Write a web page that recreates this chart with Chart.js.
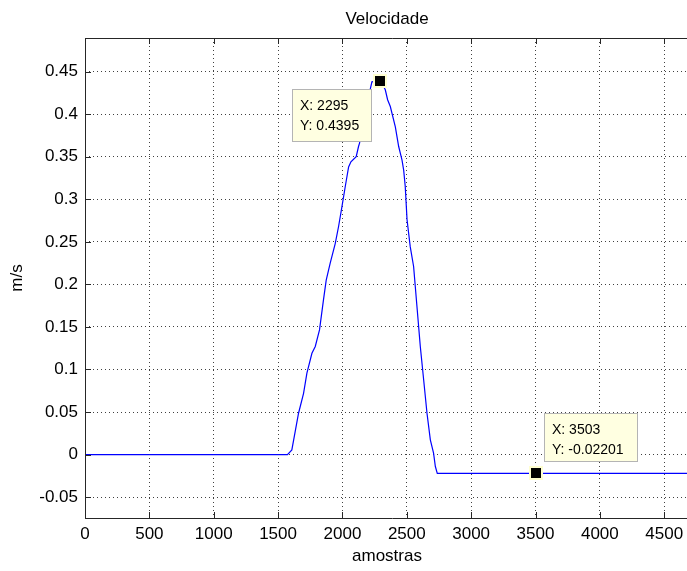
<!DOCTYPE html>
<html>
<head>
<meta charset="utf-8">
<script src="https://cdn.jsdelivr.net/npm/chart.js@4.4.1/dist/chart.umd.min.js"></script>
<style>
  html, body { margin: 0; padding: 0; background: #fff; overflow: hidden; }
  #wrap { width: 687px; height: 571px; overflow: hidden; }
</style>
</head>
<body>
<div id="wrap"><canvas id="vel" width="700" height="571"></canvas></div>
<script>
// amostras / velocidade (m/s)
const amostras = [0, 1573, 1607, 1659, 1698, 1724, 1763, 1789, 1822, 1853, 1874, 1905, 1944, 1970,
  1996, 2022, 2048, 2066, 2107, 2125, 2133, 2180, 2229, 2295, 2333, 2351, 2372, 2411, 2437, 2463,
  2476, 2488, 2502, 2527, 2553, 2579, 2605, 2631, 2657, 2683, 2708, 2722, 2737, 4780];
const velocidade = [0, 0, 0.0055, 0.0486, 0.072, 0.0957, 0.119, 0.127, 0.1465, 0.182, 0.205, 0.225,
  0.248, 0.268, 0.291, 0.315, 0.338, 0.344, 0.350, 0.362, 0.366, 0.405, 0.438, 0.4395, 0.4286, 0.417,
  0.409, 0.385, 0.362, 0.346, 0.334, 0.315, 0.276, 0.244, 0.221, 0.174, 0.127, 0.088, 0.0486, 0.0173,
  0.0016, -0.014, -0.02201, -0.02201];

const xTicks = [0, 500, 1000, 1500, 2000, 2500, 3000, 3500, 4000, 4500];
const yTicks = [-0.05, 0, 0.05, 0.1, 0.15, 0.2, 0.25, 0.3, 0.35, 0.4, 0.45];

// data tips: ponto e deslocamento da caixa
const dataTips = [
  { x: 2295, y: 0.4395, label: ['X: 2295', 'Y: 0.4395'], dx: -88, dy: 8, w: 80, h: 53 },
  { x: 3503, y: -0.02201, label: ['X: 3503', 'Y: -0.02201'], dx: 8, dy: -60, w: 94, h: 49 }
];

const FONT = 'Arial, "Liberation Sans", sans-serif';

// Moldura, ticks para dentro, títulos e data tips estilo MATLAB.
const matlabPlugin = {
  id: 'matlab',
  afterDraw(chart) {
    const { ctx, chartArea: a } = chart;
    const xs = chart.scales.x, ys = chart.scales.y;
    ctx.save();
    ctx.strokeStyle = '#262626';
    ctx.lineWidth = 1;
    ctx.beginPath();
    ctx.moveTo(a.left + 0.5, a.bottom + 0.5);
    ctx.lineTo(a.left + 0.5, a.top + 0.5);
    ctx.lineTo(a.right, a.top + 0.5);
    ctx.moveTo(a.left, a.bottom + 0.5);
    ctx.lineTo(a.right, a.bottom + 0.5);
    xTicks.forEach(v => {
      const px = Math.round(xs.getPixelForValue(v)) + 0.5;
      ctx.moveTo(px, a.bottom); ctx.lineTo(px, a.bottom - 6);
      ctx.moveTo(px, a.top); ctx.lineTo(px, a.top + 6);
    });
    yTicks.forEach(v => {
      const py = Math.round(ys.getPixelForValue(v)) + 0.5;
      ctx.moveTo(a.left, py); ctx.lineTo(a.left + 6, py);
    });
    ctx.stroke();

    const cx = (a.left + 689) / 2;
    ctx.fillStyle = '#000';
    ctx.font = '17px ' + FONT;
    ctx.textAlign = 'center';
    ctx.textBaseline = 'middle';
    ctx.fillText('Velocidade', cx, 19);
    ctx.fillText('amostras', cx, 556);
    ctx.save();
    ctx.translate(17, (a.top + a.bottom) / 2);
    ctx.rotate(-Math.PI / 2);
    ctx.fillText('m/s', 0, 0);
    ctx.restore();

    dataTips.forEach(t => {
      const px = Math.round(xs.getPixelForValue(t.x));
      const py = Math.round(ys.getPixelForValue(t.y));
      const bx = px + t.dx, by = py + t.dy;
      ctx.fillStyle = '#ffffe1';
      ctx.fillRect(bx, by, t.w, t.h);
      ctx.strokeStyle = '#b4b4b4';
      ctx.strokeRect(bx + 0.5, by + 0.5, t.w - 1, t.h - 1);
      ctx.fillStyle = '#000';
      ctx.font = '14px ' + FONT;
      ctx.textAlign = 'left';
      ctx.fillText(t.label[0], bx + 8, by + 17);
      ctx.fillText(t.label[1], bx + 8, by + 37);
      ctx.fillStyle = '#ffffd0';
      ctx.fillRect(px - 7, py - 7, 14, 14);
      ctx.fillStyle = '#000';
      ctx.fillRect(px - 5, py - 5, 10, 10);
    });
    ctx.restore();
  }
};

new Chart(document.getElementById('vel').getContext('2d'), {
  type: 'scatter',
  data: {
    datasets: [{
      data: amostras.map((x, i) => ({ x, y: velocidade[i] })),
      showLine: true,
      borderColor: '#0000ff',
      borderWidth: 1.2,
      pointRadius: 0,
      tension: 0
    }]
  },
  options: {
    responsive: false,
    animation: false,
    layout: { padding: { top: 38, left: 0, right: 0, bottom: 0 } },
    plugins: { legend: { display: false }, tooltip: { enabled: false } },
    scales: {
      x: {
        type: 'linear',
        min: 0,
        max: 4778,
        afterBuildTicks: s => { s.ticks = xTicks.map(v => ({ value: v })); },
        afterFit: s => { s.height = 53; s.paddingLeft = 0; s.paddingRight = 0; },
        ticks: { color: '#000', padding: 6, font: { family: FONT, size: 17 }, maxRotation: 0,
          callback: v => String(v) },
        grid: { color: 'rgba(0,0,0,0.75)', drawTicks: false },
        border: { display: false, dash: [1, 3] }
      },
      y: {
        min: -0.0745,
        max: 0.4895,
        afterBuildTicks: s => { s.ticks = yTicks.map(v => ({ value: v })); },
        afterFit: s => { s.width = 85; s.paddingTop = 0; s.paddingBottom = 0; },
        ticks: { color: '#000', padding: 7, font: { family: FONT, size: 17 },
          callback: v => String(Math.round(v * 1000) / 1000) },
        grid: { color: 'rgba(0,0,0,0.75)', drawTicks: false },
        border: { display: false, dash: [1, 3] }
      }
    }
  },
  plugins: [matlabPlugin]
});
</script>
</body>
</html>
